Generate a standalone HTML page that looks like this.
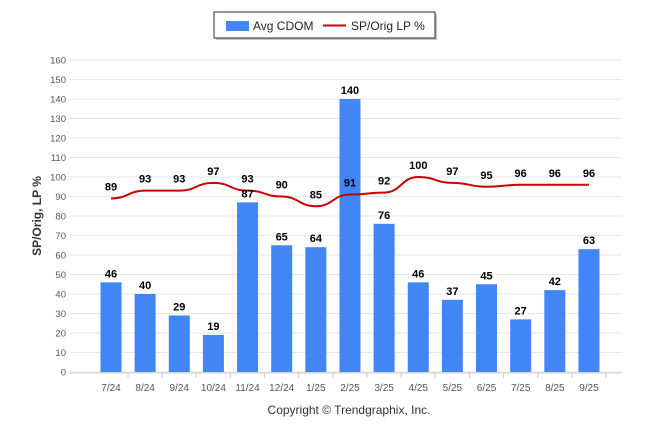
<!DOCTYPE html>
<html><head><meta charset="utf-8"><style>
body{margin:0;background:#fff;font-family:"Liberation Sans",Arial,sans-serif}
svg text{font-family:"Liberation Sans",Arial,sans-serif}
</style></head><body>
<svg width="646" height="434">
<g id="grid"></g>
<g id="bars"></g>
<g id="line"></g>
<g id="labels"></g>
<g>
<rect x="216" y="14" width="221" height="26" fill="#666" opacity="0.4"/>
<rect x="214" y="12" width="221" height="26" fill="#fff" stroke="#1f2d4f" stroke-width="1"/>
<rect x="226" y="21" width="23" height="10" fill="#4285f4"/>
<text x="253" y="30" font-size="12" fill="#222">Avg CDOM</text>
<line x1="323" y1="25.5" x2="346" y2="25.5" stroke="#c00" stroke-width="2"/>
<text x="351" y="30" font-size="12" fill="#222">SP/Orig LP %</text>
</g>
<text transform="translate(41,216) rotate(-90)" text-anchor="middle" font-size="12" font-weight="bold" fill="#333">SP/Orig, LP %</text>
<text x="349" y="414" text-anchor="middle" font-size="12" fill="#333">Copyright © Trendgraphix, Inc.</text>
</svg>
<script>
const categories=["7/24","8/24","9/24","10/24","11/24","12/24","1/25","2/25","3/25","4/25","5/25","6/25","7/25","8/25","9/25"];
const cdom=[46,40,29,19,87,65,64,140,76,46,37,45,27,42,63];
const lp=[89,93,93,97,93,90,85,91,92,100,97,95,96,96,96];
const yTicks=[0,10,20,30,40,50,60,70,80,90,100,110,120,130,140,150,160];
const NS="http://www.w3.org/2000/svg";
const y=v=>372-v*1.95;
const x=i=>111+i*34.14;
function mk(p,t,a){const e=document.createElementNS(NS,t);for(const k in a)e.setAttribute(k,a[k]);p.appendChild(e);return e;}
const g=document.getElementById('grid'),b=document.getElementById('bars'),l=document.getElementById('line'),lb=document.getElementById('labels');
yTicks.forEach(v=>{
 const ln=mk(g,'line',{x1:70,x2:622,y1:y(v),y2:y(v),stroke:'#e6e6e6','stroke-width':1});
 
 
 const t=mk(g,'text',{x:66,y:y(v)+3.5,'text-anchor':'end','font-size':'9.5',fill:'#555'});t.textContent=v;
 
 
});
mk(g,'line',{x1:70,x2:622,y1:373,y2:373,stroke:'#ccc'});
categories.forEach((c,i)=>{
 const r=mk(b,'rect',{x:x(i)-10.5,y:y(cdom[i]),width:21,height:372-y(cdom[i]),fill:'#4285f4'});
 
 
 const t=mk(lb,'text',{x:x(i),y:y(cdom[i])-5,'text-anchor':'middle','font-size':'11','font-weight':'bold',fill:'#000'});t.textContent=cdom[i];
 
 
 const t2=mk(lb,'text',{x:x(i),y:y(lp[i])-8,'text-anchor':'middle','font-size':'11','font-weight':'bold',fill:'#000'});t2.textContent=lp[i];
 
 
 const xl=mk(lb,'text',{x:x(i),y:391,'text-anchor':'middle','font-size':'10',fill:'#555'});xl.textContent=c;
 
 
 mk(g,'line',{x1:x(i)+17,x2:x(i)+17,y1:373,y2:378,stroke:'#ccc'});
});
let d='';
for(let i=0;i<lp.length;i++){
 if(i===0){d+=`M${x(0)},${y(lp[0])}`;continue;}
 const x0=x(i-1),x1=x(i),y0=y(lp[i-1]),y1=y(lp[i]),dx=(x1-x0)/2;
 d+=` C${x0+dx},${y0} ${x1-dx},${y1} ${x1},${y1}`;
}
const p=mk(l,'path',{d:d,fill:'none',stroke:'#c00','stroke-width':2});


</script>
</body></html>
